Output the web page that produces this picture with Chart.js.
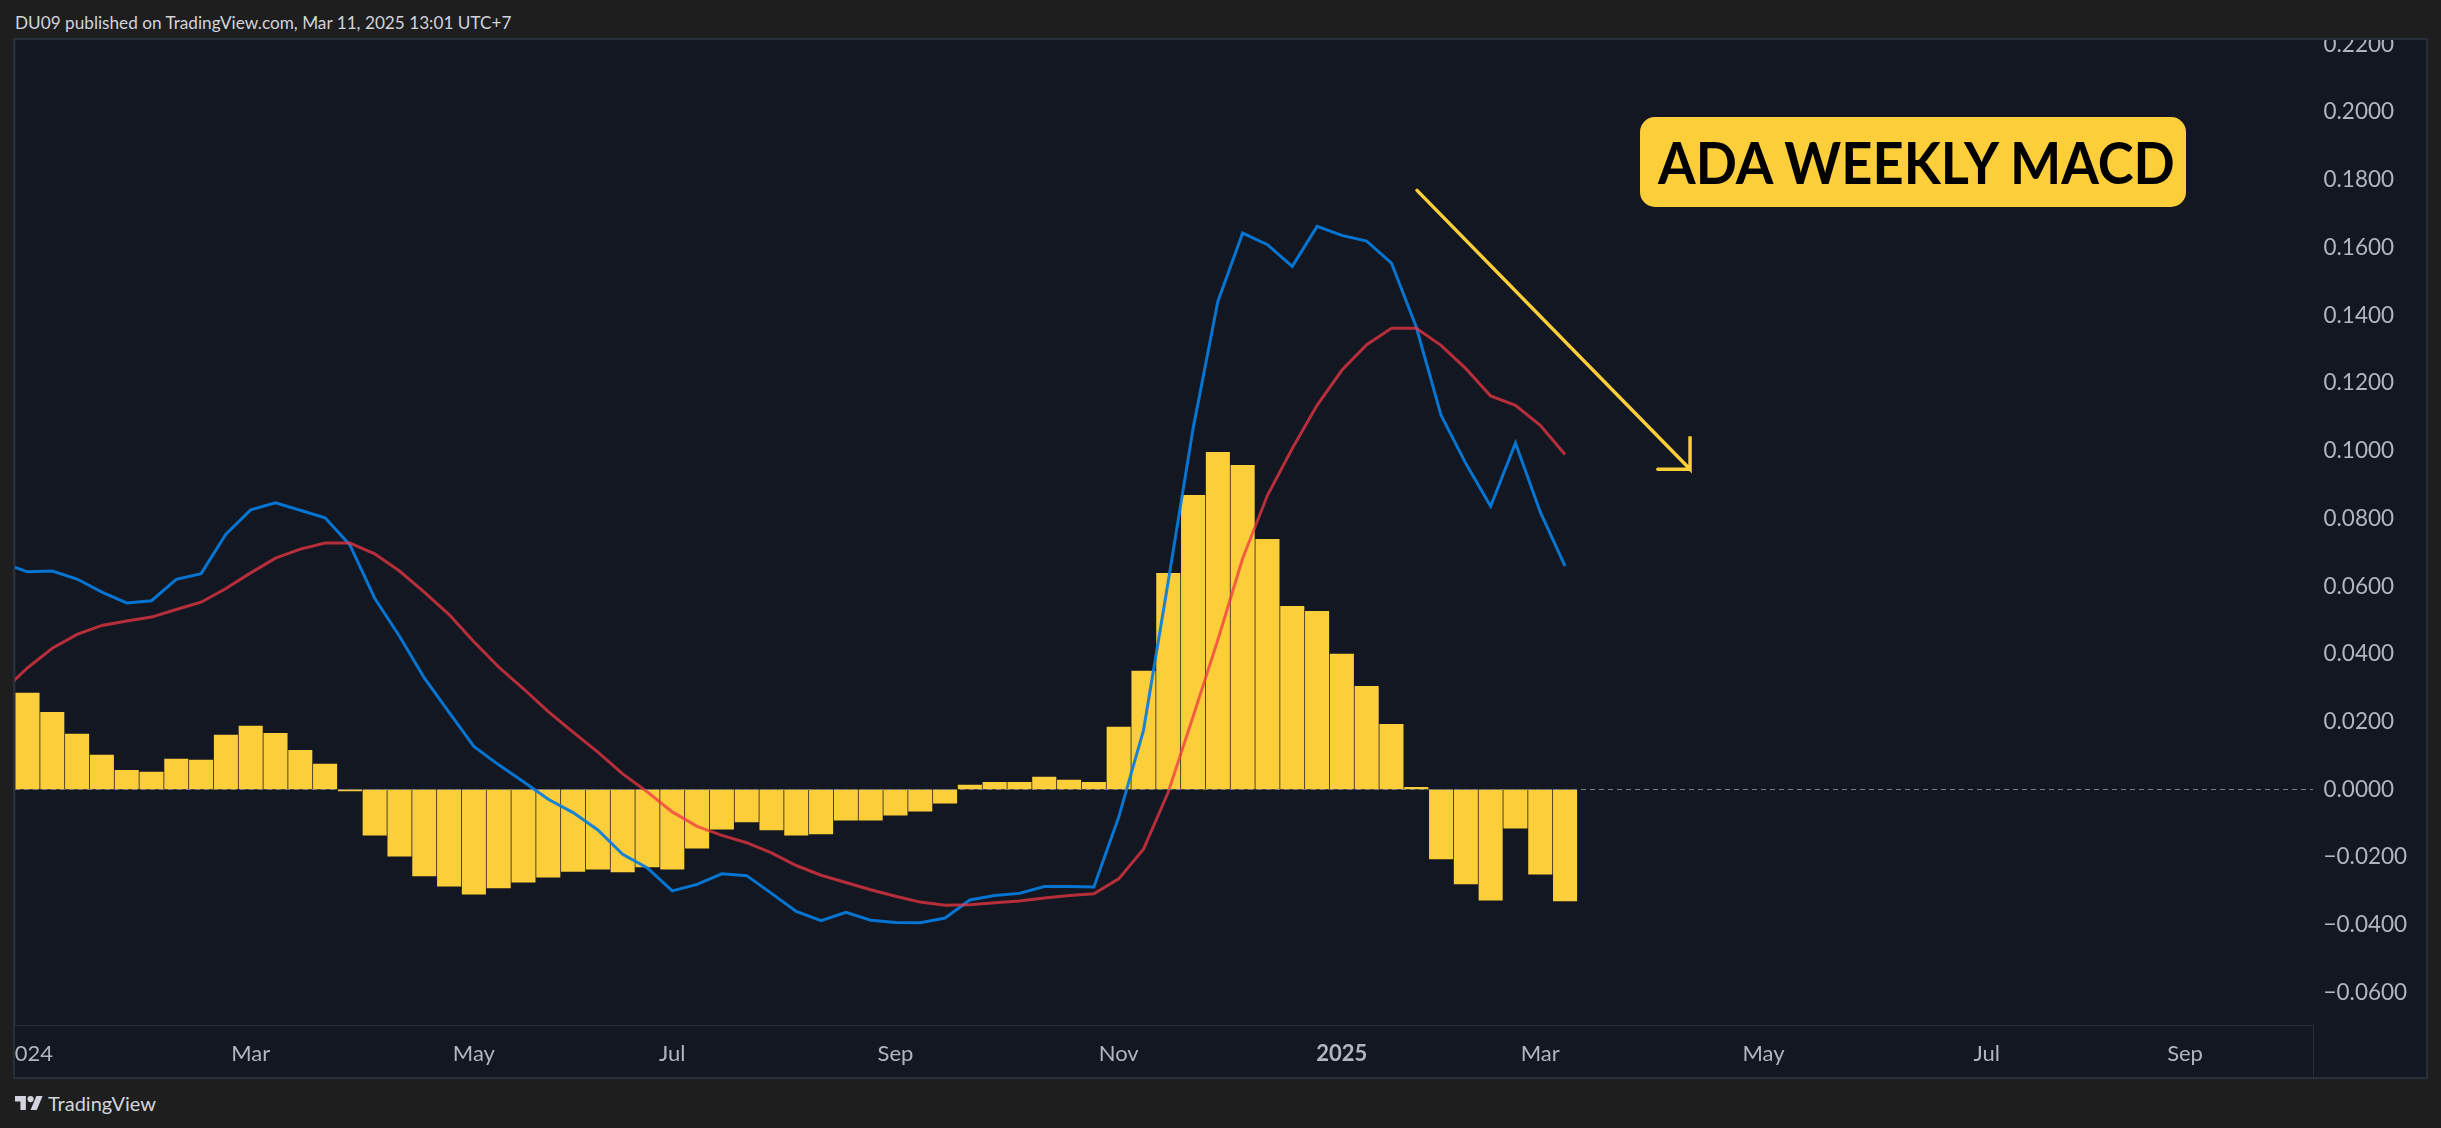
<!DOCTYPE html>
<html>
<head>
<meta charset="utf-8">
<title>ADA WEEKLY MACD</title>
<script src="https://cdn.jsdelivr.net/npm/chart.js@4"></script>
<style>
  html, body { margin: 0; padding: 0; background: #1e1e1e; }
  body { position: relative; width: 2441px; height: 1128px; overflow: hidden; font-family: Lato, "Noto Sans", sans-serif; }
  #published { position: absolute; left: 15px; top: 11px; font-size: 17.2px; line-height: 24px; color: #d1d4dc; white-space: nowrap; }
  #panel { position: absolute; left: 15px; top: 40px; width: 2411px; height: 1037px; background: #131722; outline: 2px solid #2a2e39; }
  #myChart { display: block; }
  #corner { position: absolute; left: 2298px; top: 985px; width: 1px; height: 52px; background: #2a2e39; }
  #label { position: absolute; left: 1640px; top: 117px; width: 546px; height: 90px; background: #fbce3a; border-radius: 15px;
           color: #000; font-size: 58px; font-weight: 700; line-height: 90px; text-align: center; white-space: nowrap; }
  #label span { display: inline-block; transform: scaleX(0.935); }
  #brand { position: absolute; left: 15px; top: 1091px; height: 24px; color: #d1d4dc; font-size: 20px; line-height: 24px; }
  #brand svg { position: absolute; left: 0; top: 4px; width: 28px; height: 16px; fill: #d1d4dc; }
  #brand span { position: absolute; left: 33px; top: 0; white-space: nowrap; }
</style>
</head>
<body>
<div id="published">DU09 published on TradingView.com, Mar 11, 2025 13:01 UTC+7</div>
<div id="panel"><canvas id="myChart" width="2411" height="1037"></canvas><div id="corner"></div></div>
<div id="label"><span>ADA WEEKLY MACD</span></div>
<div id="brand">
  <svg viewBox="0 4 36 18"><path d="M14 22H7V11H0V4h14v18zM28 22h-8l7.5-18h8L28 22z"></path><circle cx="20" cy="8" r="4"></circle></svg>
  <span>TradingView</span>
</div>
<script>
// weekly bars, week 0 = Jan 1 2024
var histogram = [
  0.02845, 0.0228, 0.01636, 0.01016, 0.00567, 0.00513, 0.00898, 0.00866, 0.01604, 0.01871,
  0.01658, 0.01155, 0.00749, -0.0004, -0.01347, -0.01968, -0.02556, -0.02855, -0.03091, -0.02909,
  -0.02738, -0.02588, -0.02417, -0.02353, -0.02438, -0.02289, -0.02353, -0.01732, -0.01176, -0.00962,
  -0.01198, -0.01347, -0.01315, -0.00909, -0.00909, -0.00759, -0.00642, -0.00406, 0.00128, 0.00214,
  0.00214, 0.00364, 0.00278, 0.00214, 0.01839, 0.03497, 0.06384, 0.08687, 0.09956, 0.09572,
  0.07388, 0.05411, 0.05261, 0.04, 0.03048, 0.01925, 0.00064, -0.02053, -0.02791, -0.03272,
  -0.01144, -0.02502, -0.03294
]
// line values start one week earlier, at week -1, so they run off the left edge
var macdLine = [
  0.06684, 0.06427, 0.06449, 0.06213, 0.05828, 0.05507, 0.05572, 0.06203, 0.06374, 0.07538,
  0.08255, 0.08465, 0.08244, 0.08023, 0.07222, 0.05646, 0.04524, 0.03294, 0.02278, 0.01273,
  0.00727, 0.00225, -0.00289, -0.00684, -0.01198, -0.01914, -0.0232, -0.02994, -0.02802, -0.02492,
  -0.02545, -0.03069, -0.03604, -0.03871, -0.03625, -0.03861, -0.03925, -0.03935, -0.03796, -0.03262,
  -0.03133, -0.03069, -0.02866, -0.02866, -0.02877, -0.00823, 0.01743, 0.0615, 0.10655, 0.14412,
  0.1643, 0.16086, 0.15446, 0.16626, 0.1636, 0.16193, 0.15544, 0.13654, 0.11048, 0.09622,
  0.08362, 0.1023, 0.08194, 0.06591
]
var signalLine = [
  0.02898, 0.03593, 0.04171, 0.04577, 0.04844, 0.04973, 0.0509, 0.05315, 0.05529, 0.05935,
  0.06395, 0.0683, 0.07096, 0.07274, 0.07274, 0.06957, 0.06449, 0.05828, 0.05165, 0.04363,
  0.03615, 0.02973, 0.02299, 0.0169, 0.01101, 0.0046, -0.00075, -0.00663, -0.01091, -0.01358,
  -0.01572, -0.01871, -0.02246, -0.02534, -0.02748, -0.02962, -0.03155, -0.03326, -0.03422, -0.03401,
  -0.03347, -0.03294, -0.03208, -0.03133, -0.0308, -0.02641, -0.01765, -0.00075, 0.0215, 0.04417,
  0.06818, 0.08686, 0.10065, 0.11343, 0.12376, 0.13134, 0.13616, 0.13616, 0.13114, 0.12426,
  0.11618, 0.11343, 0.10753, 0.09888
]
var arrowWeeks = [56.03, 67.04, 67.04, 67.04, 65.74]
var arrowValues = [0.1769, 0.09454, 0.10428, 0.09454, 0.09454]

var monthWeeks = [0, 9, 18, 26, 35, 44, 53, 61, 70, 79, 87]
var monthLabels = ['2024', 'Mar', 'May', 'Jul', 'Sep', 'Nov', '2025', 'Mar', 'May', 'Jul', 'Sep']
var priceTicks = [0.22, 0.2, 0.18, 0.16, 0.14, 0.12, 0.1, 0.08, 0.06, 0.04, 0.02, 0, -0.02, -0.04, -0.06]
var priceLabels = ['0.2200', '0.2000', '0.1800', '0.1600', '0.1400', '0.1200', '0.1000', '0.0800', '0.0600', '0.0400', '0.0200', '0.0000', '\u22120.0200', '\u22120.0400', '\u22120.0600']

var axisFont = 'Lato, "Noto Sans", sans-serif'

function weekPoints(values, firstWeek) {
  return values.map(function (v, i) { return { x: firstWeek + i, y: v } })
}

var ctx = document.getElementById('myChart').getContext('2d')

var myChart = new Chart(ctx, {
  type: 'bar',
  data: {
    datasets: [
      {
        type: 'line',
        label: 'Arrow',
        data: arrowWeeks.map(function (w, i) { return { x: w, y: arrowValues[i] } }),
        borderColor: '#fbce3a',
        borderWidth: 3.5,
        pointRadius: 0,
        tension: 0,
        borderCapStyle: 'round',
        order: 0,
      },
      {
        type: 'line',
        label: 'Signal',
        data: weekPoints(signalLine, -1),
        borderColor: 'rgba(242, 54, 69, 0.74)',
        borderWidth: 3,
        pointRadius: 0,
        tension: 0,
        order: 1,
      },
      {
        type: 'line',
        label: 'MACD',
        data: weekPoints(macdLine, -1),
        borderColor: 'rgba(5, 125, 225, 0.92)',
        borderWidth: 3,
        pointRadius: 0,
        tension: 0,
        order: 2,
      },
      {
        label: 'Histogram',
        data: weekPoints(histogram, 0),
        backgroundColor: '#fbce3a',
        barThickness: 23.4,
        grouped: false,
        order: 3,
      },
    ],
  },
  options: {
    responsive: false,
    animation: false,
    layout: { padding: 0 },
    plugins: { legend: { display: false }, tooltip: { enabled: false } },
    scales: {
      x: {
        type: 'linear',
        offset: false,
        min: -0.504,
        max: 92.18,
        grid: { display: false },
        border: { color: '#2a2e39', width: 1 },
        afterBuildTicks: function (scale) {
          scale.ticks = monthWeeks.map(function (w) { return { value: w } })
        },
        afterFit: function (scale) {
          scale.height = 51.5
          scale.paddingLeft = 0
          scale.paddingRight = 0
        },
        ticks: {
          autoSkip: false,
          maxRotation: 0,
          padding: 7,
          color: '#b2b5be',
          font: function (c) {
            return { family: axisFont, size: 22, weight: monthLabels[c.index] === '2025' ? 'bold' : 'normal' }
          },
          callback: function (value, index) { return monthLabels[index] },
        },
      },
      y: {
        position: 'right',
        min: -0.0697,
        max: 0.2213,
        grid: {
          z: 1,
          drawTicks: false,
          color: function (c) { return c.tick && c.tick.value === 0 ? '#787b86' : 'transparent' },
        },
        border: { color: '#2a2e39', width: 1, dash: [5, 4] },
        afterBuildTicks: function (scale) {
          scale.ticks = priceTicks.map(function (p) { return { value: p } })
        },
        afterFit: function (scale) {
          scale.width = 112.5
          scale.paddingTop = 0
          scale.paddingBottom = 0
        },
        ticks: {
          autoSkip: false,
          padding: 10,
          color: '#b2b5be',
          font: { family: axisFont, size: 22.5 },
          callback: function (value, index) { return priceLabels[index] },
        },
      },
    },
  },
})
</script>
</body>
</html>
